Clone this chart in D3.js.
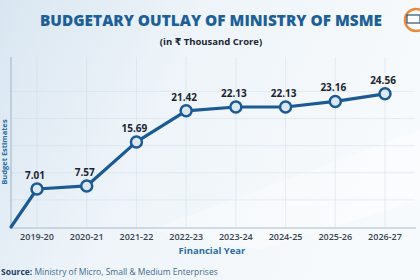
<!DOCTYPE html>
<html>
<head>
<meta charset="utf-8">
<script src="https://cdn.jsdelivr.net/npm/d3@7"></script>
<style>
  body { margin: 0; overflow: hidden; }
  svg { display: block; font-family: "Open Sans", "DejaVu Sans", sans-serif; }
</style>
</head>
<body>
<svg width="420" height="280"></svg>
<script>
// data
let years = ["2019-20", "2020-21", "2021-22", "2022-23", "2023-24", "2024-25", "2025-26", "2026-27"];
let outlay = [7.01, 7.57, 15.69, 21.42, 22.13, 22.13, 23.16, 24.56];
let yTicks = [5, 10, 15, 20, 25];

let svg = d3.select("svg");
let W = 420, H = 280;
let left = 11, bottom = 227;

// background
let defs = svg.append("defs");
let bg = defs.append("linearGradient").attr("id", "bg").attr("x1", 0).attr("y1", 0).attr("x2", 1).attr("y2", 0.3);
bg.append("stop").attr("offset", "0%").attr("stop-color", "#d9e6f1");
bg.append("stop").attr("offset", "45%").attr("stop-color", "#eef4f9");
bg.append("stop").attr("offset", "100%").attr("stop-color", "#f7fafc");
svg.append("rect").attr("width", W).attr("height", H).attr("fill", "url(#bg)");
svg.append("path")
  .attr("d", "M150,230 L420,130 L420,200 L260,250 Z")
  .attr("fill", "#ffffff").attr("opacity", 0.35);

let x = d3.scalePoint().domain(years).range([37, 385]);
let y = d3.scaleLinear().domain([0, 26]).range([bottom, 86]);

// faint grid
svg.append("g").selectAll("line").data(years).join("line")
  .attr("x1", d => x(d)).attr("x2", d => x(d))
  .attr("y1", 57).attr("y2", bottom)
  .attr("stroke", "#c9d8e6").attr("stroke-width", 0.7).attr("opacity", 0.6);
svg.append("g").selectAll("line").data(yTicks).join("line")
  .attr("x1", left).attr("x2", 415)
  .attr("y1", d => y(d)).attr("y2", d => y(d))
  .attr("stroke", "#c9d8e6").attr("stroke-width", 0.7).attr("opacity", 0.6);

// axes lines
svg.append("line").attr("x1", left).attr("x2", left).attr("y1", 57).attr("y2", bottom)
  .attr("stroke", "#a9bccd").attr("stroke-width", 1.2);
svg.append("line").attr("x1", left).attr("x2", 416).attr("y1", bottom + 1).attr("y2", bottom + 1)
  .attr("stroke", "#a9bccd").attr("stroke-width", 1.2);

// title
svg.append("text").attr("x", 211).attr("y", 26).attr("text-anchor", "middle")
  .attr("font-size", 16.5).attr("font-weight", 800).attr("fill", "#1e5f96")
  .attr("textLength", 342).attr("lengthAdjust", "spacingAndGlyphs")
  .text("BUDGETARY OUTLAY OF MINISTRY OF MSME");
svg.append("text").attr("x", 211).attr("y", 45).attr("text-anchor", "middle")
  .attr("font-size", 9.5).attr("font-weight", 700).attr("fill", "#1c2633")
  .text("(in ₹ Thousand Crore)");

// logo hint
svg.append("circle").attr("cx", 416).attr("cy", 20).attr("r", 11)
  .attr("fill", "#ffffff").attr("stroke", "#e8893a").attr("stroke-width", 2.5);
svg.append("rect").attr("x", 407).attr("y", 15).attr("width", 13).attr("height", 8)
  .attr("fill", "none").attr("stroke", "#2e4f7a").attr("stroke-width", 1.2);

// line
let pts = [[left, y(0)]].concat(years.map((d, i) => [x(d), y(outlay[i])]));
svg.append("path").datum(pts)
  .attr("d", d3.line())
  .attr("fill", "none").attr("stroke", "#1c5a93").attr("stroke-width", 3.2)
  .attr("stroke-linejoin", "round").attr("stroke-linecap", "round");

svg.append("g").selectAll("circle").data(years).join("circle")
  .attr("cx", d => x(d)).attr("cy", (d, i) => y(outlay[i])).attr("r", 5.5)
  .attr("fill", "#dbe7f2").attr("stroke", "#1c5a93").attr("stroke-width", 2.5);

svg.append("g").selectAll("text").data(years).join("text")
  .attr("x", d => x(d) - 2).attr("y", (d, i) => y(outlay[i]) - 10)
  .attr("text-anchor", "middle").attr("font-size", 10).attr("font-weight", 700)
  .attr("fill", "#1a2430")
  .text((d, i) => outlay[i].toFixed(2));

// x tick labels
svg.append("g").selectAll("text").data(years).join("text")
  .attr("x", d => x(d)).attr("y", 240)
  .attr("text-anchor", "middle").attr("font-size", 9).attr("font-weight", 600)
  .attr("fill", "#3a4450")
  .text(d => d);

svg.append("text").attr("x", 212).attr("y", 254).attr("text-anchor", "middle")
  .attr("font-size", 9.5).attr("font-weight", 700).attr("fill", "#2c6ca3")
  .text("Financial Year");

svg.append("text").attr("transform", "translate(7,152) rotate(-90)")
  .attr("text-anchor", "middle").attr("font-size", 7.5).attr("font-weight", 700)
  .attr("fill", "#2c6ca3")
  .text("Budget Estimates");

// source
let src = svg.append("text").attr("x", 1).attr("y", 275).attr("font-size", 8.5);
src.append("tspan").attr("font-weight", 700).attr("fill", "#1e3f66").text("Source: ");
src.append("tspan").attr("fill", "#3d6b94").text("Ministry of Micro, Small & Medium Enterprises");
</script>
</body>
</html>
